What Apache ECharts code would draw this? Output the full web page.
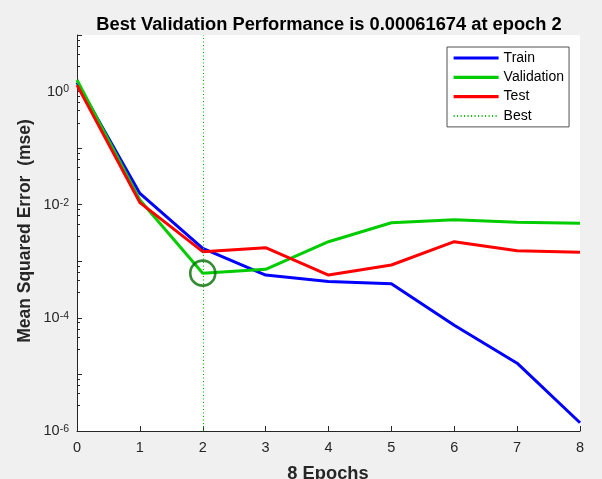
<!DOCTYPE html>
<html>
<head>
<meta charset="utf-8">
<script src="https://cdn.jsdelivr.net/npm/echarts@6/dist/echarts.min.js"></script>
<style>
html,body{margin:0;padding:0;background:#f0f0f0;}
#c{width:602px;height:479px;}
</style>
</head>
<body>
<div id="c"></div>
<script>
const epochs = [0, 1, 2, 3, 4, 5, 6, 7, 8];
const trainMse = [1.45, 0.0158, 0.00169, 0.00057, 0.00044, 0.00040, 0.000074, 0.0000158, 0.0000014];
const validationMse = [1.6, 0.0121, 0.00061674, 0.00072, 0.00222, 0.0048, 0.0054, 0.0049, 0.0047];
const testMse = [1.3, 0.0109, 0.00148, 0.00174, 0.00057, 0.00086, 0.00222, 0.00154, 0.00144];
const bestEpoch = 2;
const bestValue = 0.00061674;
const titleText = 'Best Validation Performance is 0.00061674 at epoch 2';
const xLabel = '8 Epochs';
const yLabel = 'Mean Squared Error  (mse)';
const legendNames = ['Train', 'Validation', 'Test', 'Best'];

const pairs = arr => epochs.map((e, i) => [e, arr[i]]);
const axisColor = '#262626';
const bestColor = '#00b400';
const font = '"Liberation Sans", Arial, sans-serif';

const chart = echarts.init(document.getElementById('c'), null, {renderer: 'canvas'});
chart.setOption({
  animation: false,
  backgroundColor: '#f0f0f0',
  textStyle: {fontFamily: font},
  grid: {left: 77, right: 22, top: 35, bottom: 48, show: true, backgroundColor: '#ffffff', borderWidth: 0, containLabel: false},
  xAxis: {
    type: 'value', min: 0, max: 8, interval: 1,
    axisLine: {show: true, lineStyle: {color: axisColor, width: 1}},
    axisTick: {show: true, inside: true, length: 5, lineStyle: {color: axisColor}},
    axisLabel: {color: axisColor, fontSize: 14.5, margin: 9, fontFamily: font},
    splitLine: {show: false}
  },
  yAxis: {
    type: 'log', logBase: 10, min: 1e-6, max: 10, interval: 1,
    axisLine: {show: true, lineStyle: {color: axisColor, width: 1}},
    axisTick: {show: true, inside: true, length: 5, lineStyle: {color: axisColor}},
    minorTick: {show: true, splitNumber: 5, length: 3, lineStyle: {color: axisColor}},
    splitLine: {show: false},
    axisLabel: {
      color: axisColor, margin: 8, fontFamily: font, lineHeight: 20,
      formatter: function (v) {
        const e = Math.round(Math.log10(v));
        if (e % 2 !== 0 || e > 0) return '';
        return '{b|10}{s|' + e + '}';
      },
      rich: {
        b: {fontSize: 14.5, lineHeight: 15, verticalAlign: 'bottom', color: axisColor, fontFamily: font},
        s: {fontSize: 10.5, lineHeight: 11, verticalAlign: 'top', color: axisColor, fontFamily: font}
      }
    }
  },
  legend: {
    data: legendNames.map(n => n === 'Best' ? {name: n} : {name: n, lineStyle: {width: 3.2}}),
    orient: 'vertical', left: 447, top: 47,
    padding: [4, 5, 4, 5],
    itemWidth: 45, itemHeight: 14, itemGap: 5.3,
    backgroundColor: '#ffffff', borderColor: '#505050', borderWidth: 1, borderRadius: 0,
    textStyle: {fontSize: 14, color: '#000', fontFamily: font},
    itemStyle: {opacity: 0, borderWidth: 0},
    selectedMode: false
  },
  series: [
    {name: 'Train', type: 'line', data: pairs(trainMse), symbol: 'none', lineStyle: {color: '#0000ff', width: 3}, itemStyle: {color: '#0000ff', opacity: 0}},
    {name: 'Validation', type: 'line', data: pairs(validationMse), symbol: 'none', lineStyle: {color: '#00cc00', width: 3}, itemStyle: {color: '#00cc00', opacity: 0}},
    {name: 'Test', type: 'line', data: pairs(testMse), symbol: 'none', lineStyle: {color: '#ff0000', width: 3}, itemStyle: {color: '#ff0000', opacity: 0}},
    {name: 'Best', type: 'line', data: [], symbol: 'none', lineStyle: {color: bestColor, width: 1, type: [1, 2.5]}, itemStyle: {color: bestColor, opacity: 0},
      markLine: {silent: true, symbol: ['none', 'none'], label: {show: false},
        lineStyle: {color: bestColor, width: 1, type: [1, 2.5]},
        data: [{yAxis: bestValue}, {xAxis: bestEpoch}]}
    },
    {name: 'BestPoint', type: 'scatter', data: [[bestEpoch, bestValue]], symbol: 'circle', symbolSize: 25,
      itemStyle: {color: 'rgba(0,0,0,0)', borderColor: '#006e00', borderWidth: 2.6}, z: 5}
  ],
  graphic: [
    {type: 'text', style: {text: titleText, x: 329, y: 24.5, align: 'center', verticalAlign: 'middle', font: 'bold 18.3px ' + font, fill: '#000'}},
    {type: 'text', style: {text: xLabel, x: 328, y: 474, align: 'center', verticalAlign: 'middle', font: 'bold 18.3px ' + font, fill: axisColor}},
    {type: 'text', x: 25, y: 231, rotation: Math.PI / 2, style: {text: yLabel, x: 0, y: 0, align: 'center', verticalAlign: 'middle', font: 'bold 17.5px ' + font, fill: axisColor}}
  ]
});
</script>
</body>
</html>
